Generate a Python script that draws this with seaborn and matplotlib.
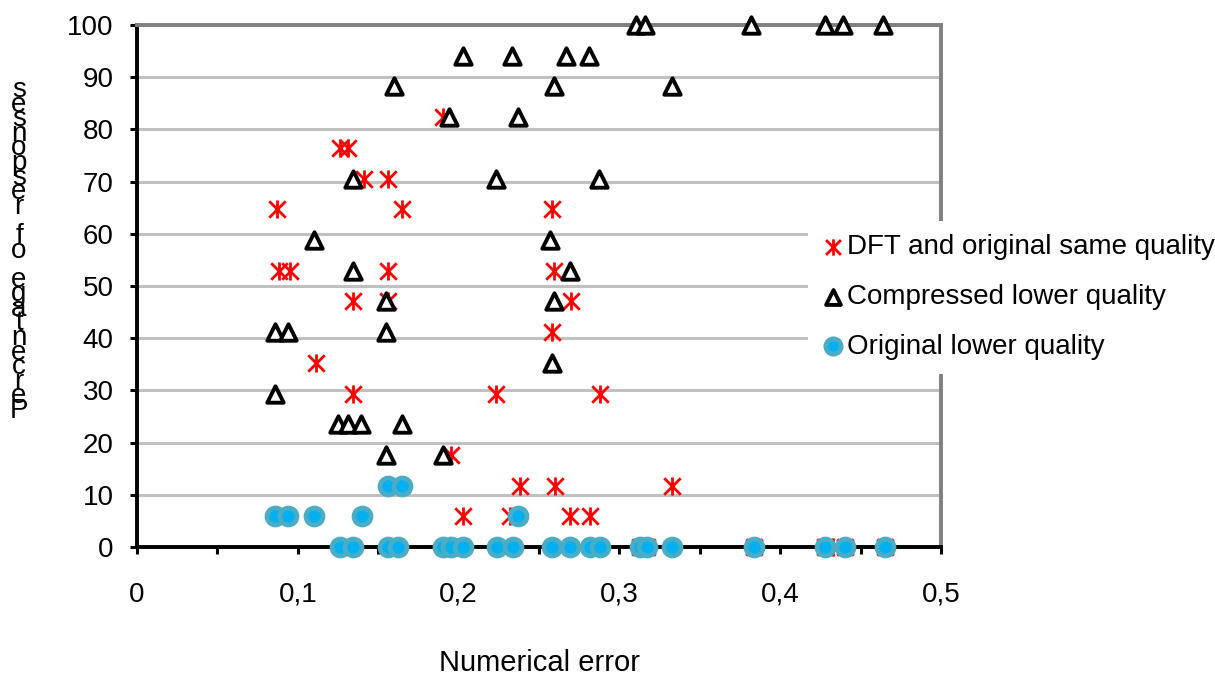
import matplotlib
matplotlib.use("Agg")
import matplotlib.pyplot as plt
from matplotlib.path import Path
from matplotlib.ticker import MultipleLocator, FuncFormatter
import seaborn as sns

# DFT and original same quality
dft_error = [0.190,
             0.126, 0.131,
             0.141, 0.156,
             0.087, 0.165, 0.258,
             0.088, 0.095, 0.156, 0.259,
             0.134, 0.156, 0.270,
             0.258,
             0.111,
             0.134, 0.223, 0.288,
             0.195,
             0.162, 0.238, 0.260, 0.333,
             0.203, 0.232, 0.269, 0.282,
             0.313, 0.317, 0.384, 0.428, 0.433, 0.440, 0.465]
dft_pct = [82.35,
           76.47, 76.47,
           70.59, 70.59,
           64.71, 64.71, 64.71,
           52.94, 52.94, 52.94, 52.94,
           47.06, 47.06, 47.06,
           41.18,
           35.29,
           29.41, 29.41, 29.41,
           17.65,
           11.76, 11.76, 11.76, 11.76,
           5.88, 5.88, 5.88, 5.88,
           0, 0, 0, 0, 0, 0, 0]

# Compressed lower quality
comp_error = [0.310, 0.316, 0.382, 0.428, 0.439, 0.464,
              0.203, 0.233, 0.267, 0.281,
              0.160, 0.259, 0.333,
              0.194, 0.237,
              0.134, 0.223, 0.287,
              0.110, 0.257,
              0.134, 0.269,
              0.155, 0.259,
              0.086, 0.094, 0.155,
              0.258,
              0.086,
              0.125, 0.131, 0.139, 0.165,
              0.155, 0.190]
comp_pct = [100, 100, 100, 100, 100, 100,
            94.12, 94.12, 94.12, 94.12,
            88.24, 88.24, 88.24,
            82.35, 82.35,
            70.59, 70.59, 70.59,
            58.82, 58.82,
            52.94, 52.94,
            47.06, 47.06,
            41.18, 41.18, 41.18,
            35.29,
            29.41,
            23.53, 23.53, 23.53, 23.53,
            17.65, 17.65]

# Original lower quality
orig_error = [0.156, 0.165,
              0.086, 0.094, 0.110, 0.140, 0.237,
              0.126, 0.134, 0.156, 0.162, 0.190, 0.195, 0.203, 0.224, 0.234,
              0.258, 0.269, 0.282, 0.288, 0.313, 0.317, 0.333, 0.384, 0.428,
              0.440, 0.465]
orig_pct = [11.76, 11.76,
            5.88, 5.88, 5.88, 5.88, 5.88,
            0, 0, 0, 0, 0, 0, 0, 0, 0,
            0, 0, 0, 0, 0, 0, 0, 0, 0,
            0, 0]

series_labels = ["DFT and original same quality",
                 "Compressed lower quality",
                 "Original lower quality"]
ylabel_text = "Percentage of responses"
xlabel_text = "Numerical error"

sns.set_style("white")
plt.rcParams['font.family'] = ['Liberation Sans', 'DejaVu Sans']
plt.rcParams['text.color'] = 'black'
plt.rcParams['axes.labelcolor'] = 'black'
plt.rcParams['xtick.color'] = 'black'
plt.rcParams['ytick.color'] = 'black'

fig, ax = plt.subplots(figsize=(12.15, 6.77), dpi=100)
fig.subplots_adjust(left=0.1128, right=0.7745, top=0.963, bottom=0.192)

# Excel-like asterisk: an X with a vertical bar
asterisk = Path([(-1, -1), (1, 1), (-1, 1), (1, -1), (0, -1.1), (0, 1.1)],
                [Path.MOVETO, Path.LINETO] * 3)

sns.scatterplot(x=dft_error, y=dft_pct, ax=ax, marker=asterisk, s=170,
                facecolor='red', edgecolor='red', linewidth=2.0,
                label=series_labels[0], clip_on=False, zorder=4)
sns.scatterplot(x=comp_error, y=comp_pct, ax=ax, marker='^', s=140,
                facecolor='white', edgecolor='black', linewidth=2.8,
                label=series_labels[1], clip_on=False, zorder=5)
sns.scatterplot(x=orig_error, y=orig_pct, ax=ax, marker='o', s=150,
                facecolor='#00B0F0', edgecolor='#4BACC6', linewidth=3.4,
                label=series_labels[2], clip_on=False, zorder=6)

ax.set_xlim(0, 0.5)
ax.set_ylim(0, 100)
ax.xaxis.set_major_locator(MultipleLocator(0.1))
ax.xaxis.set_minor_locator(MultipleLocator(0.05))
ax.yaxis.set_major_locator(MultipleLocator(10))
ax.xaxis.set_major_formatter(FuncFormatter(lambda v, p: f"{v:g}".replace('.', ',')))

ax.yaxis.grid(True, color='#C0C0C0', linewidth=2.2)
ax.set_axisbelow(True)

for side in ['left', 'bottom']:
    ax.spines[side].set_color('black')
    ax.spines[side].set_linewidth(2.8)
for side in ['top', 'right']:
    ax.spines[side].set_color('#808080')
    ax.spines[side].set_linewidth(2.8)

ax.tick_params(axis='x', which='both', direction='out', length=5, width=2.2,
               color='black', labelsize=20, pad=20, bottom=True)
ax.tick_params(axis='y', which='major', direction='out', length=5, width=2.2,
               color='black', labelsize=20, pad=12, left=True)

ax.set_xlabel(xlabel_text, fontsize=21, labelpad=30)
ax.set_ylabel("")

# the y title is drawn as a column of upright, tightly stacked letters
# (first letter at the bottom), as in the original
n = len(ylabel_text)
y_bottom = 1 - 418 / 677
y_top = 1 - 97 / 677
for i, ch in enumerate(ylabel_text):
    yy = y_bottom + (y_top - y_bottom) * i / (n - 1)
    fig.text(19 / 1215, yy, ch, fontsize=20, ha='center', va='baseline')

leg = ax.legend(loc='center left', bbox_to_anchor=(808 / 1215, 1 - 297 / 677),
                bbox_transform=fig.transFigure, frameon=True, facecolor='white',
                edgecolor='none', framealpha=1, fontsize=20, handletextpad=0.1,
                handlelength=0.8, labelspacing=0.85, borderpad=0.5,
                markerscale=0.9, borderaxespad=0)
leg.set_zorder(10)

fig.savefig("out.png", dpi=100)
